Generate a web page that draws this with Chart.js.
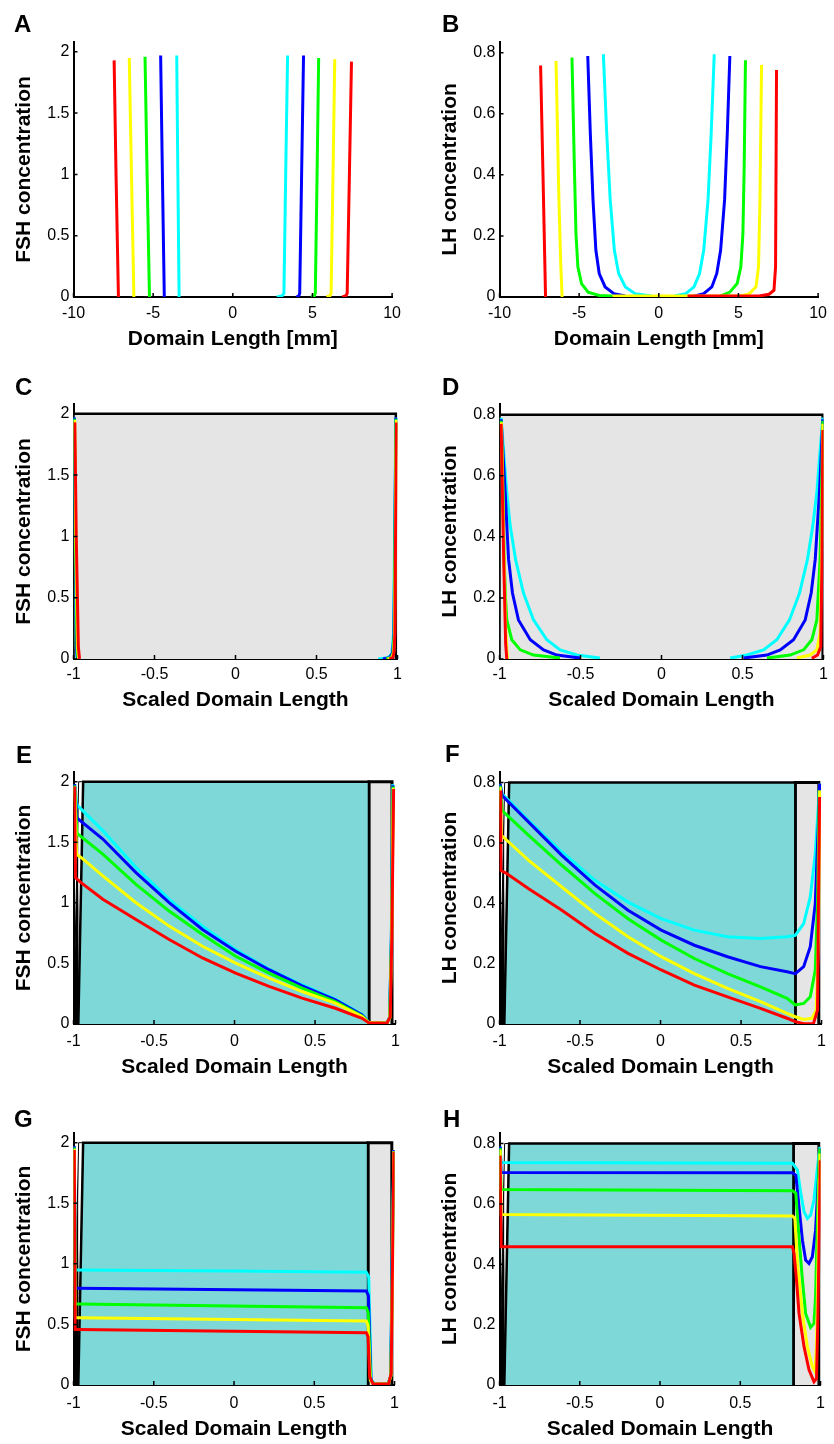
<!DOCTYPE html>
<html>
<head>
<meta charset="utf-8">
<script src="https://cdn.jsdelivr.net/npm/chart.js@4.4.1/dist/chart.umd.min.js"></script>
<style>
  body { margin: 0; background: #fff; }
  #fig { position: relative; width: 834px; height: 1444px; background: #fff; }
  #fig canvas { position: absolute; }
  .lbl { position: absolute; font: bold 24px/24px "Liberation Sans", Arial, sans-serif; color: #000; }
</style>
</head>
<body>
<div id="fig"></div>
<script>
// tick values
var mmTicks = [-10, -5, 0, 5, 10];
var scaledTicks = [-1, -0.5, 0, 0.5, 1];
var fshTicks = [0, 0.5, 1, 1.5, 2];
var lhTicks = [0, 0.2, 0.4, 0.6, 0.8];

// A : FSH vs domain length (mm), left and right fronts
var aRedL = [[-7.45,1.93],[-7.33,1.0],[-7.18,0]];
var aYellowL = [[-6.5,1.95],[-6.36,1.0],[-6.21,0]];
var aGreenL = [[-5.51,1.96],[-5.38,1.0],[-5.23,0]];
var aBlueL = [[-4.53,1.97],[-4.42,1.0],[-4.3,0]];
var aCyanL = [[-3.52,1.97],[-3.45,1.0],[-3.37,0]];
var aCyanR = [[2.76,0],[3.1,0.01],[3.21,0.03],[3.32,1.0],[3.44,1.97]];
var aBlueR = [[3.99,0],[4.15,0.01],[4.2,0.03],[4.32,1.0],[4.44,1.97]];
var aGreenR = [[4.92,0],[5.12,0.01],[5.18,0.03],[5.29,1.0],[5.39,1.95]];
var aYellowR = [[5.88,0],[6.1,0.01],[6.17,0.03],[6.29,1.0],[6.4,1.94]];
var aRedR = [[6.87,0],[7.1,0.01],[7.18,0.03],[7.32,1.0],[7.45,1.92]];

// B : LH vs domain length (mm)
var bRedL = [[-7.42,0.758],[-7.27,0.4],[-7.11,0]];
var bYellowL = [[-6.45,0.773],[-6.27,0.318],[-6.15,0.1],[-6.07,0]];
var bGreenL = [[-5.45,0.784],[-5.3,0.427],[-5.2,0.208],[-5.08,0.099],[-4.85,0.044],[-4.44,0.016],[-3.74,0.005],[-2.9,0.003]];
var bBlueL = [[-4.46,0.789],[-4.3,0.537],[-4.13,0.318],[-3.95,0.153],[-3.74,0.077],[-3.37,0.033],[-2.82,0.011],[-2.1,0.003]];
var bCyanL = [[-3.48,0.795],[-3.27,0.537],[-3.05,0.318],[-2.79,0.153],[-2.52,0.077],[-2.1,0.033],[-1.49,0.011],[-0.46,0.003]];
var bCyanR = [[0.97,0.003],[1.69,0.011],[2.21,0.033],[2.56,0.077],[2.82,0.153],[3.09,0.318],[3.29,0.537],[3.48,0.795]];
var bBlueR = [[2.21,0.003],[2.82,0.011],[3.33,0.033],[3.64,0.077],[3.88,0.153],[4.13,0.318],[4.3,0.537],[4.46,0.789]];
var bGreenR = [[3.85,0.003],[4.46,0.016],[4.92,0.044],[5.15,0.099],[5.28,0.208],[5.36,0.427],[5.44,0.775]];
var bYellowR = [[-2.9,0.003],[5.08,0.003],[5.69,0.011],[6.1,0.033],[6.26,0.099],[6.35,0.318],[6.45,0.76]];
var bRedR = [[1.8,0.003],[6.3,0.003],[6.92,0.009],[7.23,0.022],[7.33,0.099],[7.39,0.743]];

// C : FSH vs scaled length
var cGray = [[-1,0],[-1,2],[0.99,2],[0.99,0]];
var cCyanL = [[-0.996,1.97],[-0.99,1.0],[-0.983,0.1],[-0.978,0]];
var cBlueL = [[-0.995,1.97],[-0.989,1.0],[-0.981,0.1],[-0.976,0]];
var cGreenL = [[-0.994,1.96],[-0.988,1.0],[-0.978,0.1],[-0.972,0]];
var cYellowL = [[-0.993,1.95],[-0.986,1.0],[-0.975,0.1],[-0.968,0]];
var cRedL = [[-0.992,1.93],[-0.983,1.0],[-0.97,0.1],[-0.963,0]];
var cCyanR = [[0.88,0],[0.94,0.01],[0.965,0.04],[0.975,0.2],[0.982,1.0],[0.99,1.97]];
var cBlueR = [[0.91,0],[0.95,0.01],[0.97,0.05],[0.978,0.2],[0.984,1.0],[0.99,1.97]];
var cGreenR = [[0.93,0],[0.96,0.01],[0.973,0.05],[0.98,0.2],[0.985,1.0],[0.991,1.96]];
var cYellowR = [[0.94,0],[0.965,0.01],[0.976,0.05],[0.982,0.2],[0.987,1.0],[0.993,1.95]];
var cRedR = [[0.95,0],[0.97,0.01],[0.978,0.05],[0.984,0.2],[0.988,1.0],[0.994,1.93]];

// D : LH vs scaled length
var dGray = [[-1,0],[-1,0.8],[0.995,0.8],[0.995,0]];
var dCyanL = [[-0.99,0.79],[-0.971,0.655],[-0.955,0.546],[-0.934,0.436],[-0.901,0.326],[-0.852,0.216],[-0.79,0.128],[-0.708,0.063],[-0.626,0.03],[-0.523,0.013],[-0.38,0.003]];
var dBlueL = [[-0.99,0.785],[-0.965,0.546],[-0.944,0.326],[-0.92,0.216],[-0.883,0.128],[-0.81,0.063],[-0.728,0.03],[-0.646,0.013],[-0.502,0.003]];
var dGreenL = [[-0.99,0.78],[-0.98,0.6],[-0.971,0.326],[-0.963,0.2],[-0.955,0.128],[-0.924,0.063],[-0.872,0.03],[-0.79,0.013],[-0.626,0.003]];
var dYellowL = [[-0.988,0.775],[-0.975,0.4],[-0.962,0.1],[-0.951,0]];
var dRedL = [[-0.99,0.77],[-0.975,0.35],[-0.962,0.05],[-0.955,0]];
var dCyanR = [[0.424,0.003],[0.527,0.013],[0.63,0.03],[0.712,0.063],[0.79,0.128],[0.852,0.216],[0.901,0.326],[0.934,0.436],[0.959,0.546],[0.975,0.655],[0.996,0.79]];
var dBlueR = [[0.506,0.003],[0.651,0.013],[0.733,0.03],[0.815,0.063],[0.887,0.128],[0.924,0.216],[0.949,0.326],[0.975,0.546],[0.996,0.785]];
var dGreenR = [[0.651,0.003],[0.794,0.013],[0.877,0.03],[0.928,0.063],[0.959,0.128],[0.979,0.326],[0.99,0.6],[0.996,0.78]];
var dYellowR = [[0.835,0.003],[0.918,0.013],[0.959,0.03],[0.979,0.085],[0.99,0.4],[0.996,0.77]];
var dRedR = [[0.928,0.002],[0.963,0.013],[0.983,0.04],[0.99,0.3],[0.996,0.75]];

// E : FSH, two regions
var eTeal = [[-0.97,0],[-0.94,2],[0.835,2],[0.835,0]];
var eGray = [[0.835,0],[0.835,2],[0.978,2],[0.978,0]];
var eWedge = [[-1,0],[-0.968,2],[-0.94,2],[-0.97,0]];
var eRed = [[-0.993,1.96],[-0.988,1.209],[-0.953,1.167],[-0.818,1.03],[-0.612,0.863],[-0.406,0.697],[-0.199,0.545],[0.007,0.42],[0.214,0.31],[0.42,0.213],[0.626,0.13],[0.792,0.047],[0.833,0.011],[0.946,0.006],[0.967,0.06],[0.977,0.725],[0.988,1.94]];
var eYellow = [[-0.993,1.96],[-0.981,1.40],[-0.953,1.375],[-0.818,1.223],[-0.612,1.001],[-0.406,0.808],[-0.199,0.642],[0.007,0.503],[0.214,0.379],[0.42,0.268],[0.626,0.172],[0.792,0.061],[0.833,0.012],[0.946,0.008],[0.965,0.05],[0.976,0.7],[0.986,1.95]];
var eGreen = [[-0.993,1.97],[-0.979,1.575],[-0.818,1.402],[-0.612,1.153],[-0.406,0.932],[-0.199,0.739],[0.007,0.559],[0.214,0.42],[0.42,0.296],[0.626,0.185],[0.792,0.066],[0.833,0.012],[0.946,0.008],[0.964,0.05],[0.975,0.7],[0.985,1.96]];
var eBlue = [[-0.993,1.98],[-0.979,1.70],[-0.818,1.527],[-0.612,1.25],[-0.406,1.001],[-0.199,0.78],[0.007,0.6],[0.214,0.448],[0.42,0.315],[0.626,0.199],[0.792,0.075],[0.833,0.013],[0.946,0.008],[0.963,0.05],[0.974,0.7],[0.984,1.97]];
var eCyan = [[-0.993,1.98],[-0.979,1.81],[-0.818,1.596],[-0.612,1.292],[-0.406,1.029],[-0.199,0.808],[0.007,0.614],[0.214,0.454],[0.42,0.324],[0.626,0.205],[0.792,0.08],[0.833,0.014],[0.946,0.008],[0.962,0.05],[0.973,0.7],[0.983,1.98]];

// F : LH, two regions
var fTeal = [[-0.97,0],[-0.94,0.8],[0.837,0.8],[0.837,0]];
var fGray = [[0.837,0],[0.837,0.8],[0.983,0.8],[0.983,0]];
var fWedge = [[-1,0],[-0.968,0.8],[-0.94,0.8],[-0.97,0]];
var fRed = [[-0.996,0.774],[-0.992,0.509],[-0.953,0.498],[-0.819,0.448],[-0.613,0.377],[-0.407,0.3],[-0.202,0.234],[0.004,0.179],[0.21,0.129],[0.416,0.09],[0.621,0.052],[0.786,0.019],[0.837,0.008],[0.889,0.001],[0.95,0.002],[0.975,0.046],[0.981,0.399],[0.988,0.752]];
var fYellow = [[-0.996,0.785],[-0.988,0.625],[-0.953,0.608],[-0.819,0.542],[-0.613,0.454],[-0.407,0.366],[-0.202,0.289],[0.004,0.223],[0.21,0.167],[0.416,0.118],[0.621,0.074],[0.786,0.035],[0.837,0.024],[0.889,0.015],[0.94,0.019],[0.967,0.046],[0.981,0.289],[0.988,0.774]];
var fGreen = [[-0.996,0.79],[-0.984,0.707],[-0.819,0.625],[-0.613,0.526],[-0.407,0.432],[-0.202,0.349],[0.004,0.278],[0.21,0.217],[0.416,0.167],[0.621,0.123],[0.786,0.085],[0.837,0.063],[0.889,0.068],[0.93,0.09],[0.961,0.179],[0.975,0.399],[0.986,0.774]];
var fBlue = [[-0.996,0.796],[-0.984,0.757],[-0.819,0.669],[-0.613,0.559],[-0.407,0.46],[-0.202,0.377],[0.004,0.311],[0.21,0.261],[0.416,0.223],[0.621,0.19],[0.786,0.173],[0.837,0.167],[0.889,0.19],[0.93,0.256],[0.961,0.399],[0.981,0.674],[0.988,0.796]];
var fCyan = [[-0.996,0.796],[-0.984,0.763],[-0.819,0.674],[-0.613,0.57],[-0.407,0.476],[-0.202,0.404],[0.004,0.349],[0.21,0.311],[0.416,0.289],[0.621,0.283],[0.786,0.289],[0.837,0.294],[0.889,0.333],[0.93,0.421],[0.961,0.564],[0.981,0.73],[0.988,0.796]];

// G : FSH, plateau
var gTeal = [[-0.97,0],[-0.94,2],[0.835,2],[0.835,0]];
var gGray = [[0.835,0],[0.835,2],[0.983,2],[0.983,0]];
var gWedge = [[-1,0],[-0.968,2],[-0.94,2],[-0.97,0]];
var gCyan = [[-0.995,1.97],[-0.99,0.949],[-0.973,0.949],[-0.012,0.94],[0.824,0.93],[0.839,0.894],[0.855,0.041],[0.876,0.008],[0.959,0.008],[0.975,0.069],[0.986,1.142],[0.996,1.94]];
var gBlue = [[-0.995,1.97],[-0.99,0.798],[-0.973,0.798],[0.824,0.776],[0.837,0.74],[0.853,0.04],[0.873,0.008],[0.96,0.008],[0.976,0.07],[0.987,1.1],[0.996,1.94]];
var gGreen = [[-0.995,1.96],[-0.99,0.668],[-0.973,0.668],[0.824,0.638],[0.836,0.6],[0.851,0.04],[0.87,0.008],[0.961,0.008],[0.977,0.07],[0.987,1.0],[0.996,1.93]];
var gYellow = [[-0.995,1.95],[-0.99,0.556],[-0.973,0.556],[0.824,0.528],[0.835,0.49],[0.849,0.04],[0.868,0.008],[0.962,0.008],[0.978,0.08],[0.987,0.9],[0.996,1.93]];
var gRed = [[-0.995,1.94],[-0.99,0.459],[-0.973,0.459],[0.824,0.432],[0.835,0.399],[0.845,0.069],[0.866,0.008],[0.963,0.008],[0.979,0.096],[0.986,0.867],[0.996,1.926]];

// H : LH, plateau
var hTeal = [[-0.97,0],[-0.94,0.8],[0.831,0.8],[0.831,0]];
var hGray = [[0.831,0],[0.831,0.8],[0.99,0.8],[0.99,0]];
var hWedge = [[-1,0],[-0.968,0.8],[-0.94,0.8],[-0.97,0]];
var hCyan = [[-0.996,0.79],[-0.99,0.737],[0.825,0.735],[0.856,0.712],[0.877,0.635],[0.897,0.574],[0.918,0.552],[0.938,0.563],[0.959,0.613],[0.979,0.712],[0.996,0.789]];
var hBlue = [[-0.996,0.79],[-0.99,0.704],[0.825,0.703],[0.846,0.695],[0.866,0.59],[0.887,0.48],[0.907,0.414],[0.928,0.403],[0.949,0.425],[0.969,0.513],[0.984,0.657],[0.996,0.784]];
var hGreen = [[-0.996,0.785],[-0.99,0.648],[0.825,0.644],[0.846,0.635],[0.862,0.513],[0.887,0.348],[0.907,0.237],[0.938,0.191],[0.959,0.204],[0.969,0.292],[0.979,0.513],[0.99,0.734],[0.996,0.784]];
var hYellow = [[-0.996,0.78],[-0.99,0.565],[0.825,0.56],[0.84,0.552],[0.856,0.403],[0.887,0.237],[0.918,0.127],[0.949,0.061],[0.965,0.045],[0.975,0.127],[0.984,0.403],[0.992,0.679],[0.996,0.767]];
var hRed = [[-0.996,0.76],[-0.99,0.458],[0.825,0.458],[0.835,0.436],[0.85,0.348],[0.866,0.237],[0.897,0.127],[0.928,0.05],[0.959,0.011],[0.975,0.022],[0.984,0.237],[0.992,0.513],[0.998,0.745]];

var FONT = '"Liberation Sans", Arial, Helvetica, sans-serif';
var RED = '#ff0000', YEL = '#ffff00', GRN = '#00ff00', BLU = '#0000ff', CYN = '#00ffff';
var TEAL = '#7fd8d8', GRAY = '#e5e5e5';
Chart.defaults.color = '#000';

function curve(data, color, order) {
  return { data: data, borderColor: color, borderWidth: 3, fill: false, order: order, pointRadius: 0, tension: 0 };
}
function patch(data, color, order, bw) {
  return { data: data, borderColor: '#000', backgroundColor: color, borderWidth: bw, fill: 'origin', order: order, pointRadius: 0, tension: 0, borderJoinStyle: 'miter' };
}
function five(r, y, g, b, c) {
  return [curve(c, CYN, 5), curve(b, BLU, 4), curve(g, GRN, 3), curve(y, YEL, 2), curve(r, RED, 1)];
}

// small inward tick marks like matlab
var inTicks = {
  id: 'inTicks',
  afterDatasetsDraw: function(chart) {
    var ctx = chart.ctx, a = chart.chartArea, x = chart.scales.x, y = chart.scales.y;
    ctx.save();
    ctx.strokeStyle = '#000';
    ctx.lineWidth = 1.5;
    ctx.beginPath();
    x.ticks.forEach(function(t) { var px = x.getPixelForValue(t.value); ctx.moveTo(px, a.bottom); ctx.lineTo(px, a.bottom - 4); });
    y.ticks.forEach(function(t) { var py = y.getPixelForValue(t.value); ctx.moveTo(a.left, py); ctx.lineTo(a.left + 4, py); });
    ctx.stroke();
    ctx.restore();
  }
};

var rows = [
  { top: 0, h: 360, pt: 42, pb: 297, tp: 7, tc: 339.5 },
  { top: 360, h: 360, pt: 44, pb: 299, tp: 6, tc: 340.5 },
  { top: 720, h: 360, pt: 52, pb: 304, tp: 8, tc: 347.5 },
  { top: 1080, h: 364, pt: 53, pb: 305, tp: 9, tc: 349.5 }
];

var fig = document.getElementById('fig');

function makePanel(p) {
  var r = rows[p.row];
  var cv = document.createElement('canvas');
  cv.width = 408; cv.height = r.h;
  cv.style.left = (p.col ? 426 : 0) + 'px';
  cv.style.top = r.top + 'px';
  fig.appendChild(cv);

  var lbl = document.createElement('div');
  lbl.className = 'lbl';
  lbl.textContent = p.letter;
  lbl.style.left = p.lx + 'px';
  lbl.style.top = (p.ly - 20.3) + 'px';
  fig.appendChild(lbl);

  var fsh = p.y === 'FSH';
  var xt = p.mm ? mmTicks : scaledTicks;
  var yt = fsh ? fshTicks : lhTicks;

  new Chart(cv, {
    type: 'line',
    data: { datasets: p.datasets },
    options: {
      responsive: false,
      animation: false,
      devicePixelRatio: 1,
      layout: { padding: { left: 0, top: r.pt, right: 408 - 397.5, bottom: 0 } },
      plugins: { legend: { display: false }, tooltip: { enabled: false } },
      scales: {
        x: {
          type: 'linear',
          min: p.mm ? -10 : -1,
          max: p.mm ? 10 : 1,
          afterBuildTicks: function(s) { s.ticks = xt.map(function(v) { return { value: v }; }); },
          afterFit: function(s) { s.height = r.h - r.pb; },
          grid: { display: false, drawTicks: false },
          border: { display: true, color: '#000', width: 2 },
          ticks: { color: '#000', font: { family: FONT, size: 16 }, padding: r.tp, autoSkip: false, maxRotation: 0, callback: function(v) { return String(v); } },
          title: { display: true, text: p.mm ? 'Domain Length [mm]' : 'Scaled Domain Length', color: '#000',
                   font: { family: FONT, size: 21, weight: 'bold' }, padding: { top: 0, bottom: r.h - r.tc - 12.6 } }
        },
        y: {
          type: 'linear',
          min: 0,
          max: fsh ? 2.08 : 0.835,
          afterBuildTicks: function(s) { s.ticks = yt.map(function(v) { return { value: v }; }); },
          afterFit: function(s) { s.width = 73.5; },
          grid: { display: false, drawTicks: false },
          border: { display: true, color: '#000', width: 2 },
          ticks: { color: '#000', font: { family: FONT, size: 16 }, padding: 4, callback: function(v) { return String(v); } },
          title: { display: true, text: fsh ? 'FSH concentration' : 'LH concentration', color: '#000',
                   font: { family: FONT, size: 21, weight: 'bold' }, padding: { top: 11.9, bottom: 0 } }
        }
      }
    },
    plugins: [inTicks]
  });
}

makePanel({ row: 0, col: 0, letter: 'A', lx: 14, ly: 32, mm: true, y: 'FSH',
  datasets: five(aRedL, aYellowL, aGreenL, aBlueL, aCyanL).concat(five(aRedR, aYellowR, aGreenR, aBlueR, aCyanR)) });
makePanel({ row: 0, col: 1, letter: 'B', lx: 442, ly: 32, mm: true, y: 'LH',
  datasets: five(bRedL, bYellowL, bGreenL, bBlueL, bCyanL).concat(five(bRedR, bYellowR, bGreenR, bBlueR, bCyanR)) });
makePanel({ row: 1, col: 0, letter: 'C', lx: 15, ly: 395, mm: false, y: 'FSH',
  datasets: [patch(cGray, GRAY, 10, 2.5)].concat(five(cRedL, cYellowL, cGreenL, cBlueL, cCyanL), five(cRedR, cYellowR, cGreenR, cBlueR, cCyanR)) });
makePanel({ row: 1, col: 1, letter: 'D', lx: 442, ly: 395, mm: false, y: 'LH',
  datasets: [patch(dGray, GRAY, 10, 2.5)].concat(five(dRedL, dYellowL, dGreenL, dBlueL, dCyanL), five(dRedR, dYellowR, dGreenR, dBlueR, dCyanR)) });
makePanel({ row: 2, col: 0, letter: 'E', lx: 16, ly: 763, mm: false, y: 'FSH',
  datasets: [patch(eGray, GRAY, 11, 3), patch(eTeal, TEAL, 10, 2.5), patch(eWedge, '#000', 9, 1)].concat(five(eRed, eYellow, eGreen, eBlue, eCyan)) });
makePanel({ row: 2, col: 1, letter: 'F', lx: 445, ly: 762, mm: false, y: 'LH',
  datasets: [patch(fGray, GRAY, 11, 3), patch(fTeal, TEAL, 10, 2.5), patch(fWedge, '#000', 9, 1)].concat(five(fRed, fYellow, fGreen, fBlue, fCyan)) });
makePanel({ row: 3, col: 0, letter: 'G', lx: 14, ly: 1127, mm: false, y: 'FSH',
  datasets: [patch(gGray, GRAY, 11, 3), patch(gTeal, TEAL, 10, 2.5), patch(gWedge, '#000', 9, 1)].concat(five(gRed, gYellow, gGreen, gBlue, gCyan)) });
makePanel({ row: 3, col: 1, letter: 'H', lx: 443, ly: 1127, mm: false, y: 'LH',
  datasets: [patch(hGray, GRAY, 11, 3), patch(hTeal, TEAL, 10, 2.5), patch(hWedge, '#000', 9, 1)].concat(five(hRed, hYellow, hGreen, hBlue, hCyan)) });
</script>
</body>
</html>
